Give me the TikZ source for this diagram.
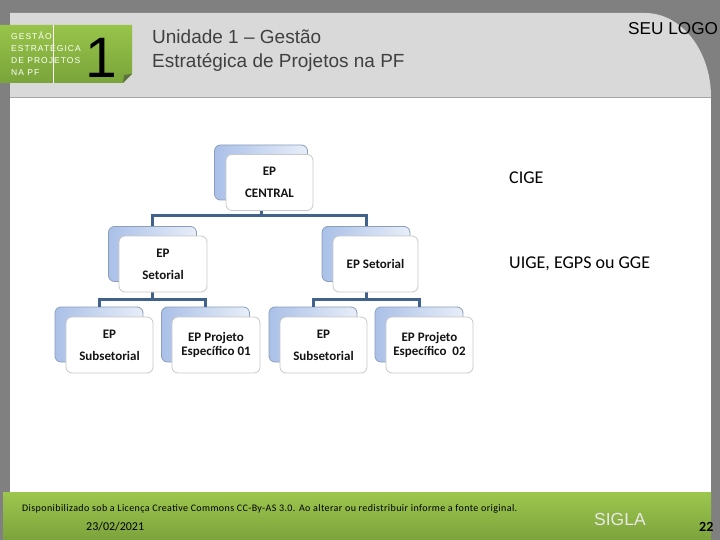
\documentclass[tikz,border=0pt]{standalone}
\usepackage{fontspec}
\setmainfont{Liberation Sans}
\newfontfamily\calfont{Carlito}
\newfontfamily\calspaced[LetterSpace=4]{Carlito}
\newfontfamily\spacedfont[LetterSpace=12]{Liberation Sans}
\usetikzlibrary{calc}
\definecolor{bggrey}{RGB}{128,128,128}
\definecolor{panelgrey}{RGB}{217,217,217}
\definecolor{panelline}{RGB}{166,166,166}
\definecolor{greentop}{RGB}{152,196,74}
\definecolor{greenbot}{RGB}{121,164,58}
\definecolor{foldgreen}{RGB}{92,112,62}
\definecolor{titlegrey}{RGB}{64,64,64}
\definecolor{siglagrey}{RGB}{232,232,232}
\definecolor{orgblue}{RGB}{65,98,138}
\definecolor{backdraw}{RGB}{140,158,186}
\definecolor{backleft}{RGB}{170,192,232}
\definecolor{backright}{RGB}{232,238,248}
\definecolor{frontdraw}{RGB}{200,200,200}
\tikzset{
  backbox/.style={draw=backdraw, line width=0.8pt, rounded corners=6pt, left color=backleft, right color=backright, minimum width=88pt, minimum height=55pt, inner sep=0pt},
  frontbox/.style={draw=frontdraw, line width=0.8pt, fill=white, rounded corners=6pt, minimum width=87pt, minimum height=56pt, inner sep=0pt, align=center, font=\calfont\bfseries\fontsize{13}{22}\selectfont, text={rgb,255:red,20;green,20;blue,20}},
  tightlead/.style={font=\calfont\bfseries\fontsize{13}{13.5}\selectfont},
  orgline/.style={draw=orgblue, line width=3pt},
  headtxt/.style={anchor=base west, inner sep=0pt, text=white, font=\spacedfont\fontsize{8.5}{10}\selectfont},
  titletxt/.style={anchor=base west, inner sep=0pt, text=titlegrey, font=\fontsize{19}{23}\selectfont},
  sidetxt/.style={anchor=base west, inner sep=0pt, font=\calfont\fontsize{18}{20}\selectfont}
}
\begin{document}
\begin{tikzpicture}[x=1pt,y=-1pt]
\useasboundingbox (0,0) rectangle (720,540);
\clip (0,0) rectangle (720,540);
% background
\fill[bggrey] (0,0) rectangle (720,540);
\fill[white] (10,97) rectangle (711,492);
% header panel
\fill[panelgrey] (10,13) -- (645,13) arc[start angle=-90, end angle=0, x radius=66, y radius=84] -- (711,97) -- (10,97) -- cycle;
\draw[panelline, line width=1pt] (10,97.5) -- (711,97.5);
% green tab
\shade[top color=greentop, bottom color=greenbot] (0,25) -- (132,25) -- (132,74) -- (123,83) -- (0,83) -- cycle;
\fill[foldgreen] (123,83) -- (132,74) -- (124,75) -- cycle;
\draw[white, line width=0.8pt] (53,25) -- (53,83);
\node[headtxt] (h1) at (11,39.5) {GESTÃO};
\node[headtxt] (h2) at (11,51.5) {ESTRATÉGICA};
\node[headtxt] (h3) at (11,63.5) {DE PROJETOS};
\node[headtxt] (h4) at (11,75.5) {NA PF};
\node[anchor=base west, inner sep=0pt, font=\fontsize{57}{57}\selectfont] (num) at (85,78) {1};
\node[titletxt] (t1) at (152,43.5) {Unidade 1 – Gestão};
\node[titletxt] (t2) at (152,67.5) {Estratégica de Projetos na PF};
\node[anchor=base west, inner sep=0pt, font=\fontsize{17.2}{20}\selectfont] (logo) at (628,35) {SEU LOGO};
% footer
\shade[top color={rgb,255:red,157;green,198;blue,78}, bottom color={rgb,255:red,124;green,163;blue,60}] (3,492) rectangle (711,540);
\node[anchor=base west, inner sep=0pt, font=\calspaced\fontsize{10}{11}\selectfont] (lic) at (22,511) {Disponibilizado sob a Licença Creative Commons CC-By-AS 3.0. Ao alterar ou redistribuir informe a fonte original.};
\node[anchor=base west, inner sep=0pt, font=\calfont\fontsize{12}{14}\selectfont] (date) at (86,530) {23/02/2021};
\node[anchor=base west, inner sep=0pt, text=siglagrey, font=\fontsize{17.5}{20}\selectfont] (sigla) at (594,525) {SIGLA};
\node[anchor=base west, inner sep=0pt, font=\calfont\bfseries\fontsize{14}{16}\selectfont] (pg) at (699,531) {22};
% org chart: back boxes
\node[backbox, minimum width=93pt] (cb) at (261,172.5) {};
\node[backbox] (ab) at (152.5,254) {};
\node[backbox] (bb) at (366,254) {};
\node[backbox] (s1b) at (99,334.5) {};
\node[backbox] (p1b) at (205.5,334.5) {};
\node[backbox] (s2b) at (313,334.5) {};
\node[backbox] (p2b) at (419,334.5) {};
% connectors
\coordinate (j1) at (261,216);
\coordinate (j2) at (152.5,299);
\coordinate (j3) at (366,299);
\draw[orgline] (cb.south) -- (j1);
\draw[orgline] (ab.north) |- (j1) -| (bb.north);
\draw[orgline] (ab.south) -- (j2);
\draw[orgline] (s1b.north) |- (j2) -| (p1b.north);
\draw[orgline] (bb.south) -- (j3);
\draw[orgline] (s2b.north) |- (j3) -| (p2b.north);
% front boxes
\node[frontbox] (cf) at (269.5,182.5) {EP\\CENTRAL};
\node[frontbox, minimum width=88pt] (af) at (163,264) {EP\\Setorial};
\node[frontbox, minimum width=85pt] (bf) at (375.5,264) {EP Setorial};
\node[frontbox] (s1f) at (109.5,345) {EP\\Subsetorial};
\node[frontbox, tightlead, minimum width=88pt] (p1f) at (216,345) {EP Projeto\\Específico 01};
\node[frontbox] (s2f) at (323.5,345) {EP\\Subsetorial};
\node[frontbox, tightlead] (p2f) at (429.5,345) {EP Projeto\\Específico~~02};
% side labels
\node[sidetxt] (cige) at (509,184) {CIGE};
\node[sidetxt] (uige) at (509,268) {UIGE, EGPS ou GGE};
\end{tikzpicture}
\end{document}
